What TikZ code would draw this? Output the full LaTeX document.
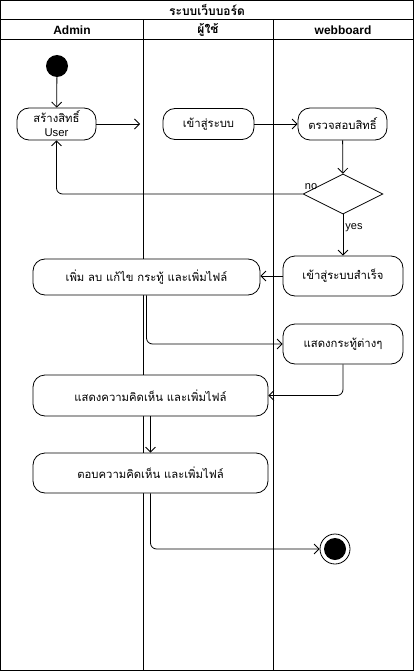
\documentclass[tikz,border=0pt]{standalone}
\usepackage{fontspec}
\setmainfont{Liberation Sans}
\newfontfamily\thaifont[Script=Thai]{Loma}
\usepackage{tikz}
\usetikzlibrary{shapes.geometric, arrows.meta}

\begin{document}
\begin{tikzpicture}[x=1pt, y=-1pt,
    every node/.style={font=\fontsize{11}{14}\selectfont},
    act/.style={draw, fill=white, rounded corners=12pt, line width=0.8pt, align=center,
                inner sep=1pt, font=\thaifont\fontsize{11.3}{14}\selectfont},
    head/.style={font=\bfseries\fontsize{12}{14}\selectfont},
    thaihead/.style={font=\thaifont\bfseries\fontsize{12}{14}\selectfont},
    flow/.style={draw, line width=0.8pt, rounded corners=6pt,
                 -{Straight Barb[length=5pt, width=10pt]}},
    lane/.style={draw, line width=1pt}
]
\useasboundingbox (0,0) rectangle (414,671);
% swimlanes
\draw[lane] (0.5,0.5) rectangle (413.5,670.5);
\draw[lane] (0.5,20) -- (413.5,20);
\draw[lane] (0.5,40) -- (413.5,40);
\draw[lane] (143,20) -- (143,670.5);
\draw[lane] (273,20) -- (273,670.5);
\node[thaihead] (title) at (207,10) {ระบบเว็บบอร์ด};
\node[head] (hadmin) at (72,30) {Admin};
\node[thaihead] (huser) at (208,30) {ผู้ใช้};
\node[head] (hboard) at (343,30) {webboard};

% activities
\node[circle, fill, minimum size=22pt, inner sep=0pt] (start) at (57,66) {};
\node[act, minimum width=79pt, minimum height=32pt] (create) at (56.5,124) {สร้างสิทธิ์\\\normalfont User};
\node[act, minimum width=91pt, minimum height=31pt] (login) at (208.5,124) {เข้าสู่ระบบ};
\node[act, minimum width=89pt, minimum height=32pt] (check) at (342.5,124) {ตรวจสอบสิทธิ์};
\node[diamond, draw, fill=white, line width=0.8pt, minimum width=80pt, minimum height=40pt, inner sep=0pt] (decision) at (343,194) {};
\node[act, minimum width=120pt, minimum height=40pt] (success) at (343,276) {เข้าสู่ระบบสำเร็จ};
\node[act, minimum width=227pt, minimum height=36pt] (manage) at (146.5,277) {เพิ่ม ลบ แก้ไข กระทู้ และเพิ่มไฟล์};
\node[act, minimum width=120pt, minimum height=40pt] (topics) at (343,344) {แสดงกระทู้ต่างๆ};
\node[act, minimum width=235pt, minimum height=41pt] (comments) at (150.5,395.5) {แสดงความคิดเห็น และเพิ่มไฟล์};
\node[act, minimum width=235pt, minimum height=40pt] (reply) at (150.5,473) {ตอบความคิดเห็น และเพิ่มไฟล์};
\node[circle, draw, fill=white, line width=0.8pt, minimum size=30pt, inner sep=0pt] (stop) at (335,549) {};
\node[circle, fill, minimum size=22pt, inner sep=0pt] (stopdot) at (stop) {};
\coordinate (userlane) at (140,124);

% flows
\draw[flow] (start) -- (create);
\draw[flow] (create.east) -- (userlane);
\draw[flow] (login) -- (check);
\draw[flow] (check) -- (decision);
\draw[flow] (decision.west) -| (create.south);
\node (no) at (311,187) {no};
\draw[flow] (decision) -- (success);
\node (yes) at (354,228) {yes};
\draw[flow] (success.west) -- (success.west -| manage.east);
\draw[flow] (manage.south) |- (topics.west);
\draw[flow] (topics.south) |- (comments.east);
\draw[flow] (comments) -- (reply);
\draw[flow] (reply.south) |- (stop.west);
\end{tikzpicture}
\end{document}
